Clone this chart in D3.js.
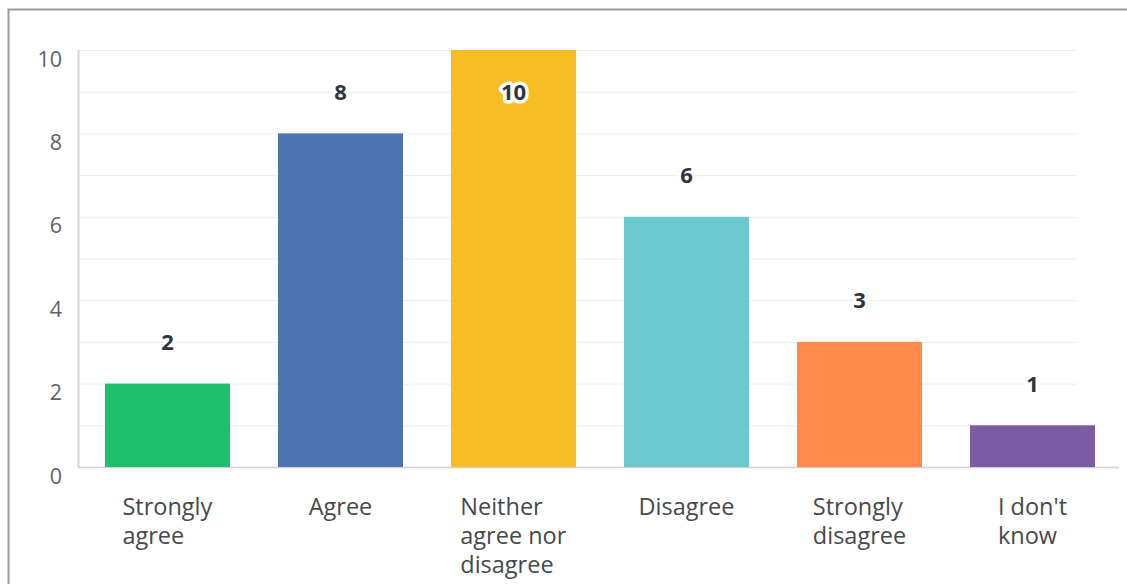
<!DOCTYPE html>
<html>
<head>
<meta charset="utf-8">
<script src="https://cdn.jsdelivr.net/npm/d3@7"></script>
<style>
  html, body { margin: 0; padding: 0; background: #fff; }
  svg { display: block; font-family: "Open Sans", sans-serif; }
</style>
</head>
<body>
<svg id="chart" width="1127" height="584"></svg>
<script>
const categories = [['Strongly', 'agree'], ['Agree'], ['Neither', 'agree nor', 'disagree'], ['Disagree'], ['Strongly', 'disagree'], ["I don't", 'know']];
const values = [2, 8, 10, 6, 3, 1];
const colors = ['#20bf6e', '#4b74b1', '#f8bc25', '#6bc8cc', '#fe8a4c', '#7b5ba3'];
const yTicks = [0, 2, 4, 6, 8, 10];
const gridValues = [1, 2, 3, 4, 5, 6, 7, 8, 9, 10];

const svg = d3.select('#chart');

// outer frame, runs off the right and bottom edge like the screenshot
svg.append('rect')
  .attr('x', 8.5).attr('y', 9.5)
  .attr('width', 1140).attr('height', 600)
  .attr('fill', 'none')
  .attr('stroke', '#9a9a9a')
  .attr('stroke-width', 2);

const plotLeft = 78, plotRight = 1119, plotTop = 50, plotBottom = 467;

const x = d3.scaleBand()
  .domain(d3.range(values.length))
  .range([81, 1119])
  .paddingInner(48 / 173)
  .paddingOuter(24 / 173);

const y = d3.scaleLinear().domain([0, 10]).range([plotBottom, plotTop]);

// grid
svg.append('g')
  .selectAll('line')
  .data(gridValues)
  .join('line')
  .attr('x1', plotLeft).attr('x2', 1077)
  .attr('y1', d => y(d) + 0.5).attr('y2', d => y(d) + 0.5)
  .attr('stroke', '#ededed')
  .attr('stroke-width', 1);

// y axis line + baseline
svg.append('line')
  .attr('x1', plotLeft + 0.5).attr('x2', plotLeft + 0.5)
  .attr('y1', plotTop).attr('y2', plotBottom)
  .attr('stroke', '#d6d6d6').attr('stroke-width', 2);
svg.append('line')
  .attr('x1', plotLeft).attr('x2', plotRight)
  .attr('y1', plotBottom + 0.5).attr('y2', plotBottom + 0.5)
  .attr('stroke', '#d0d0d0').attr('stroke-width', 1.5);

// tick labels sit a little below their gridline
svg.append('g')
  .selectAll('text')
  .data(yTicks)
  .join('text')
  .attr('x', 62)
  .attr('y', d => y(d) + 9)
  .attr('dy', '0.35em')
  .attr('text-anchor', 'end')
  .attr('font-size', 21.5)
  .attr('fill', '#5f6467')
  .text(d => d);

// bars
svg.append('g')
  .selectAll('rect')
  .data(values)
  .join('rect')
  .attr('x', (d, i) => x(i))
  .attr('y', d => y(d))
  .attr('width', x.bandwidth())
  .attr('height', d => y(0) - y(d))
  .attr('fill', (d, i) => colors[i]);

// value labels: one unit above the bar, or one unit inside when there is no room
svg.append('g')
  .selectAll('text')
  .data(values)
  .join('text')
  .attr('x', (d, i) => x(i) + x.bandwidth() / 2)
  .attr('y', d => y(d + 1 > 10 ? d - 1 : d + 1))
  .attr('text-anchor', 'middle')
  .attr('dy', '0.36em')
  .attr('font-size', 22)
  .attr('font-weight', 700)
  .attr('fill', '#2d3640')
  .attr('stroke', '#fff')
  .attr('stroke-width', 7)
  .attr('stroke-linejoin', 'round')
  .attr('paint-order', 'stroke')
  .text(d => d);

// category labels: block centred under the bar, lines left aligned
const cats = svg.append('g')
  .selectAll('g')
  .data(categories)
  .join('g');

cats.each(function (lines, i) {
  const g = d3.select(this);
  const t = g.append('text')
    .attr('font-size', 23.5)
    .attr('fill', '#45494c');
  lines.forEach((line, k) => {
    t.append('tspan')
      .attr('x', 0)
      .attr('y', 507 + k * 29)
      .attr('dy', '0.35em')
      .text(line);
  });
  const w = t.node().getBBox().width;
  g.attr('transform', `translate(${x(i) + x.bandwidth() / 2 - w / 2},0)`);
});
</script>
</body>
</html>
